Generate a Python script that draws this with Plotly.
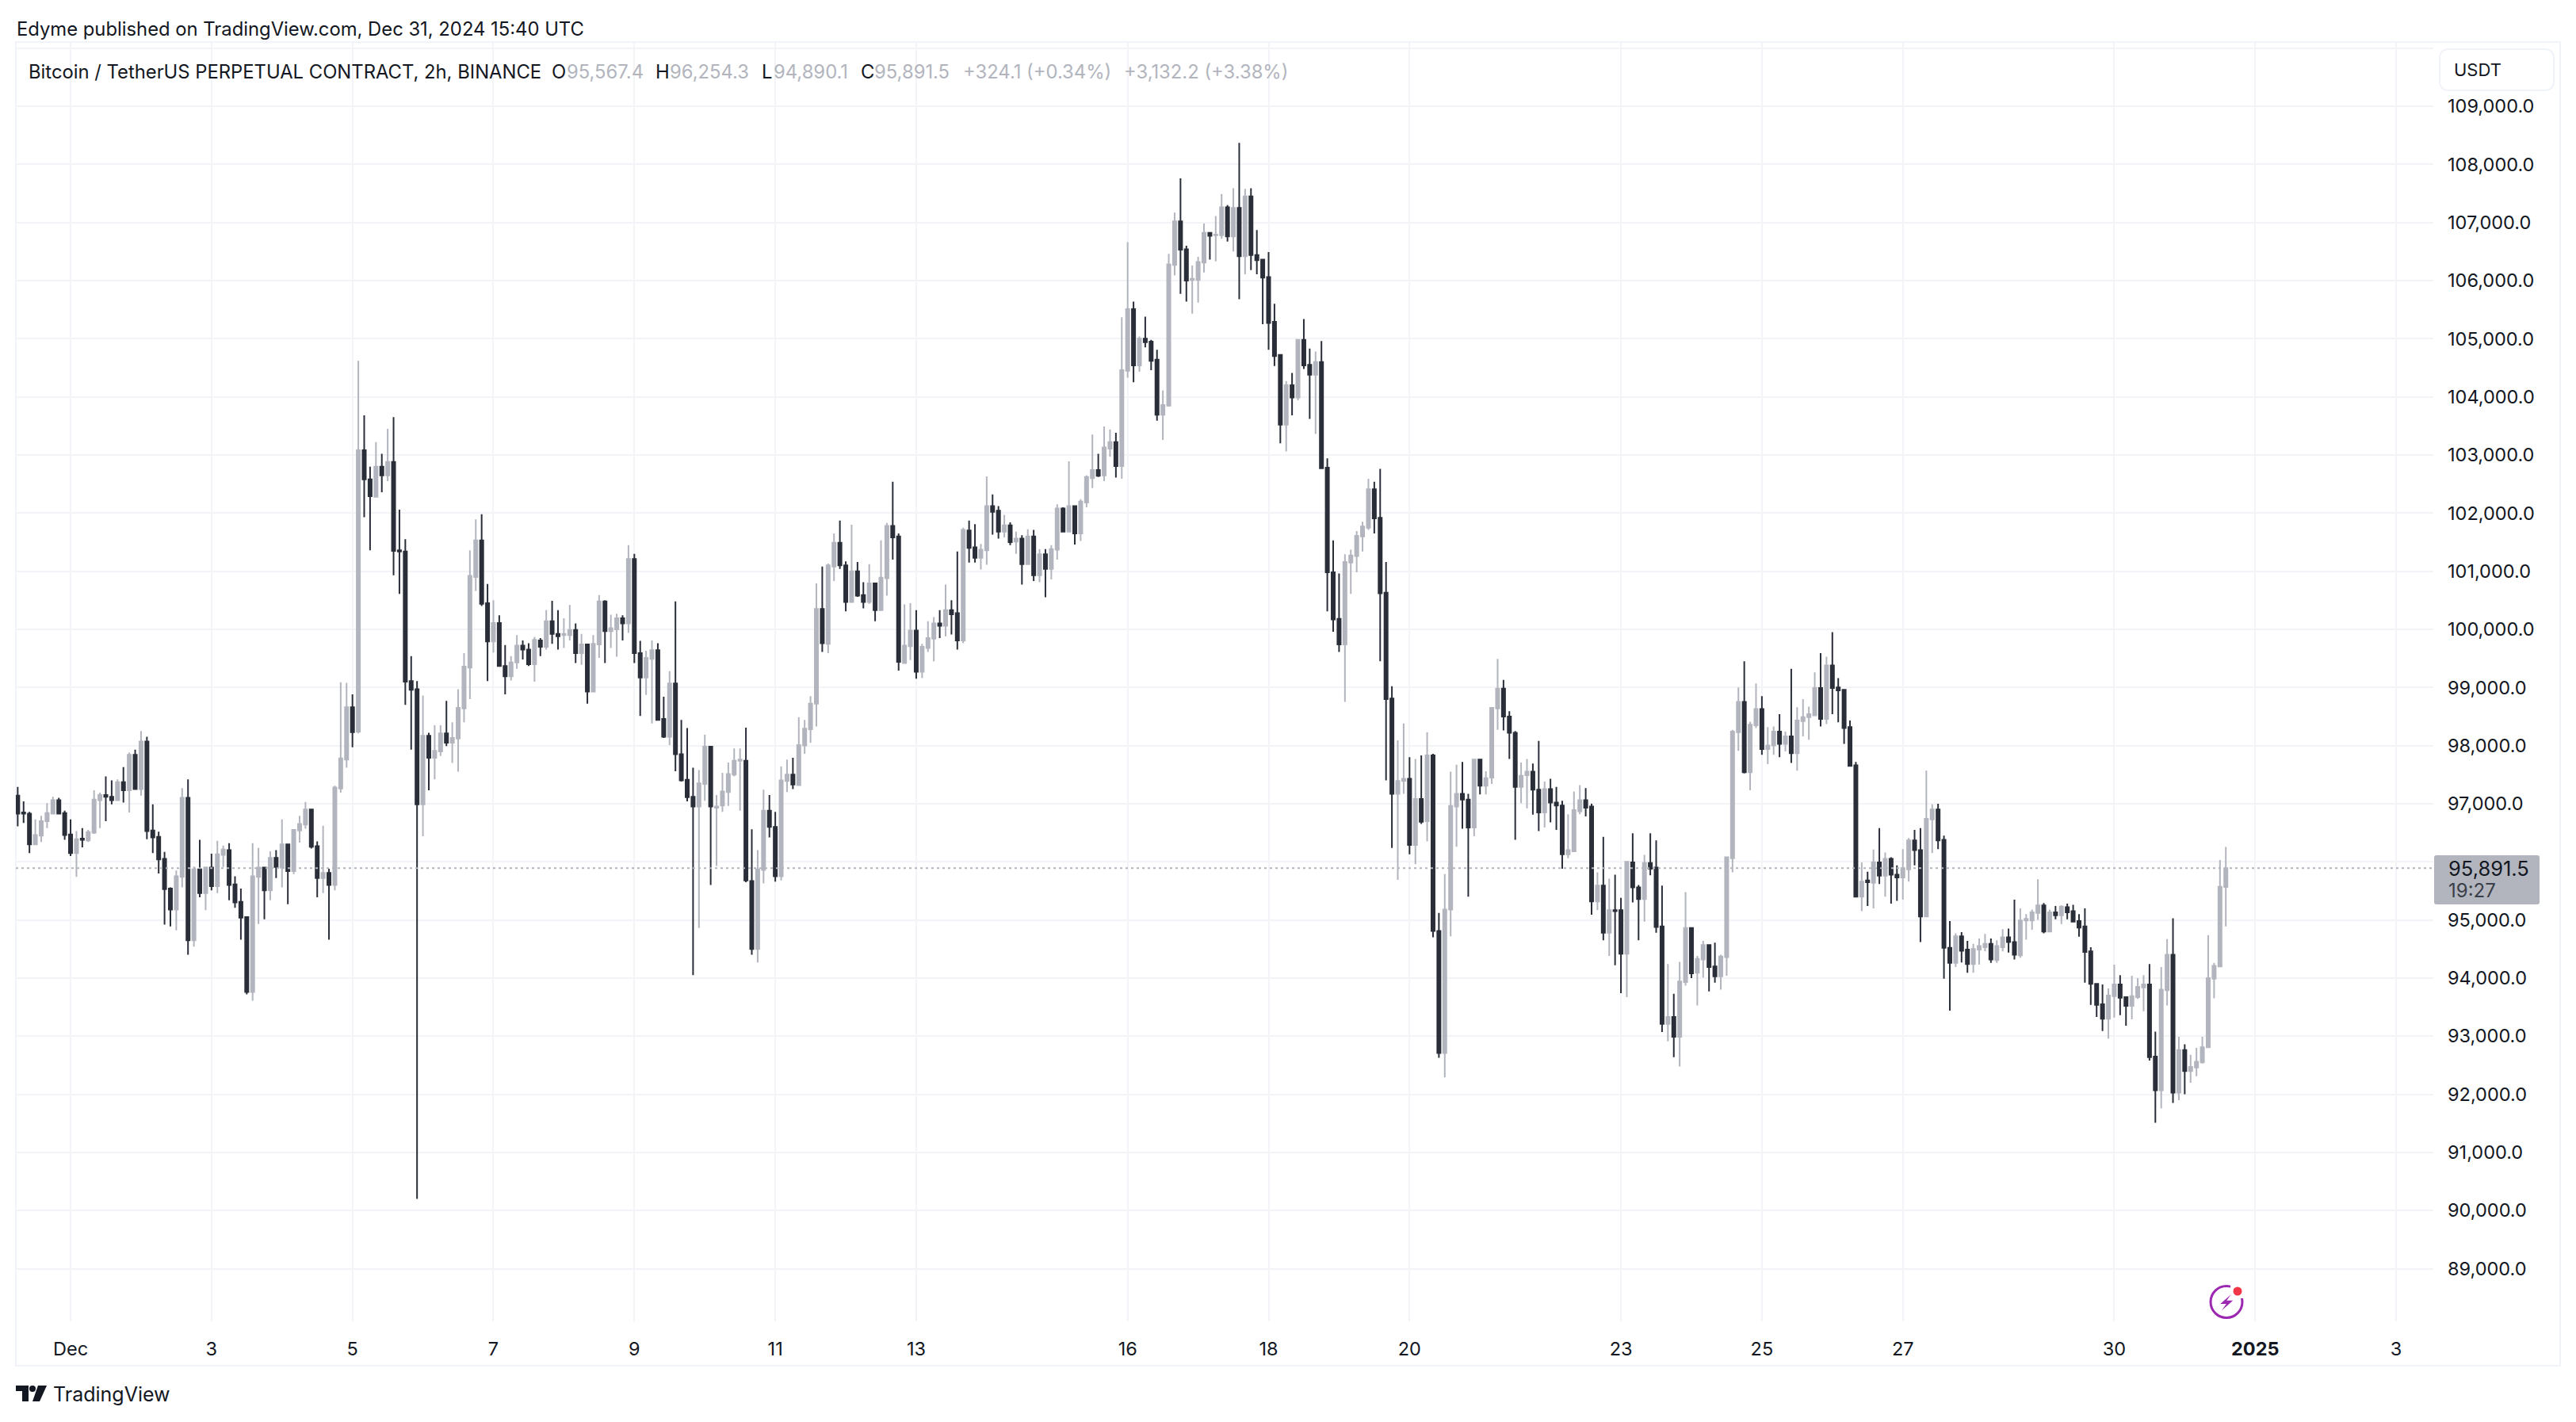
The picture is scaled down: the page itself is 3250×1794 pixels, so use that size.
import pandas as pd
import plotly.graph_objects as go

# 2h candles, first one is Nov 30 06:00
bar_times = pd.date_range("2024-11-30 06:00", periods=377, freq="2h")

opens = [
    97140,96850,96830,96300,96450,96700,96830,97060,96840,96470,
    96150,96400,96370,96500,97060,97150,97120,97060,97370,97230,
    97840,97250,98070,96540,96430,96050,95540,95180,95740,97100,
    94650,95870,95460,95900,95580,96120,96200,95610,95310,95050,
    93760,95740,95900,95510,96070,95900,96300,95840,96540,96640,
    96900,96270,95720,95810,95600,97260,97760,98660,98240,103080,
    102580,102280,102800,102650,102880,101360,101340,99110,98970,96990,
    98170,97790,97900,98210,98050,98120,98640,99340,100900,101530,
    100450,99790,100110,99370,99190,99430,99720,99650,99400,99810,
    99700,100140,99920,99900,99900,99990,99590,99740,98930,99740,
    100480,99970,100000,100190,100100,101210,99590,99170,99490,99640,
    98460,98150,99070,97850,97410,97120,96950,97340,97980,96930,
    96970,97200,97500,97740,97740,95670,94500,95860,96880,96600,
    95750,97390,97500,97320,98000,98280,98720,100350,99750,101080,
    101490,101100,100470,101000,100590,100470,100790,100330,100880,101780,
    101600,99420,99710,99980,99270,99680,99840,100100,100060,100330,
    100280,99810,101700,101410,101230,101360,102120,102040,101680,101790,
    101510,101560,101120,101600,100930,101290,101040,101370,102080,101680,
    102120,101650,102180,102600,102740,102650,103110,103220,102810,104450,
    105510,104540,105000,104950,104640,103690,103850,106270,107020,106540,
    106010,106010,106310,106820,106780,106780,107260,106760,107250,106420,
    107450,106440,106360,106060,105290,104720,103520,104200,103990,104980,
    104550,104380,104600,102780,100980,100180,99740,101150,101260,101600,
    101750,102410,101920,100630,98810,97170,97390,97430,96290,97080,
    96700,97830,94810,92710,95180,96950,97170,97070,96590,97760,
    97310,97450,98640,98980,98500,98220,97290,97490,97550,97240,
    96850,97250,97020,96970,96130,96180,96870,97060,96950,95320,
    95590,94780,95170,95170,94420,95990,95560,95360,95980,95900,
    94890,93210,93330,92990,93930,94860,94090,94320,94570,94200,
    94030,94360,96060,98230,98750,97540,98350,98630,97940,98000,
    98240,98030,98160,97870,98420,98490,98520,98990,98460,99380,
    99000,98960,98320,97660,95400,95680,95640,95990,95760,96050,
    95780,95730,95870,96370,96200,95060,96730,96900,96380,94520,
    94260,94720,94490,94240,94490,94530,94590,94310,94530,94700,
    94620,94390,94990,94990,95120,95250,94800,95130,95080,95220,
    95150,94980,94890,94460,93900,93550,93300,93690,93890,93670,
    93520,93670,93840,93890,92650,92070,93790,94400,92030,92760,
    92400,92460,92550,92810,93990,94200,95567.4,
]
highs = [
    97290,97040,96860,96730,96790,97010,97120,97100,96880,96730,
    96530,96580,96550,97230,97190,97470,97400,97420,97630,97880,
    97930,98250,98150,96990,96520,96170,95560,95850,97270,97420,
    95920,96380,95920,96140,96360,96280,96320,95750,95540,95050,
    96320,96240,95910,96180,96200,96730,96300,96550,96790,97030,
    96900,96350,96620,95880,97310,99090,99080,98880,104620,103680,
    102800,103220,103020,103450,103650,102060,101550,99540,99110,98860,
    98220,98350,98350,98770,98400,98970,99590,101360,101890,101980,
    100780,100500,100240,99730,99540,99900,99810,99760,99870,99850,
    100330,100490,100330,100190,100420,100100,99920,99750,99900,100590,
    100500,100250,100270,100240,101450,101300,99800,99630,99810,99760,
    98840,99280,100480,98440,98300,97620,97580,98190,97980,97150,
    97530,97710,97950,97950,98310,96560,96200,97240,97150,96860,
    97640,97760,97790,98490,98440,98850,100790,101080,101130,101650,
    101870,101170,101800,101160,100810,101120,100790,101530,101830,102540,
    101650,100430,100450,100330,99750,100140,100210,100330,100770,100500,
    101340,101750,101870,101810,101470,102630,102320,102120,101970,101840,
    101680,101620,101720,101710,101380,101380,101450,102150,102100,102890,
    102130,102240,102650,103350,103020,103490,103440,103380,105370,106660,
    105640,105040,105380,104980,104810,104110,106460,107170,107760,106600,
    106260,106410,106980,106820,107110,107490,107300,107590,108370,107580,
    107590,106870,106370,106490,105600,104720,104270,104410,104990,105340,
    104830,104780,104960,102940,101530,100960,101290,101370,101690,101850,
    102590,102540,102760,101160,99020,98090,98380,97800,97770,97830,
    98230,97860,95120,95790,97550,97670,97720,97170,97760,97770,
    97560,98650,99490,99130,98590,98250,97710,97770,97690,98080,
    97380,97430,97290,97050,96820,97210,97320,97270,97000,95820,
    96430,95710,95780,95380,96010,96490,95600,96120,96490,96370,
    95590,94240,93730,94280,95480,94860,94380,94640,94570,94610,
    94400,96080,98270,99000,99450,98410,99070,98850,98320,98330,
    98540,98240,99320,98660,98800,98670,99260,99590,99530,99950,
    99160,98960,98430,97720,95990,95830,96210,96580,96160,96080,
    95940,96220,96410,96550,96580,97570,96990,97000,96450,94980,
    94770,94790,94640,94590,94680,94760,94680,94650,94840,94850,
    95350,95200,95100,95180,95700,95290,95180,95240,95250,95280,
    95260,95100,95200,94530,93900,93890,93820,94230,94050,93680,
    94040,94000,94050,94240,93080,94190,94670,95030,92990,92860,
    92680,92800,92990,94740,94260,96030,96254.3,
]
lows = [
    96610,96670,96150,96300,96340,96580,96830,96830,96380,96100,
    95740,96250,96340,96480,96580,96700,96990,97050,97020,96850,
    97240,97140,96390,96150,95800,94920,94890,94820,95560,94400,
    94540,95390,95170,95510,95460,95910,95340,95210,94660,93720,
    93610,94930,95010,95340,95720,95560,95270,95790,96330,96570,
    96230,95390,95460,94660,95510,97190,97620,97970,98210,101930,
    101360,102280,102360,102550,100930,100610,98700,97930,90200,96440,
    97230,97420,97820,97990,97700,97550,98400,98800,100660,100400,
    99110,99600,99360,98880,99120,99320,99480,99370,99100,99540,
    99650,99750,99650,99680,99810,99420,99390,98720,98930,99510,
    99420,99680,99530,99810,99940,99420,98510,98870,98380,98440,
    98130,98010,97560,97380,97040,94050,94860,97050,95600,95930,
    96860,96960,97470,96880,95650,94400,94270,95630,96420,95660,
    95680,97200,97250,97320,97860,98050,98330,99610,99590,100830,
    101040,100310,100470,100560,100360,100440,100140,100330,100580,101200,
    99290,99410,99470,99150,99160,99610,99450,99850,99880,99910,
    99650,99760,101150,101150,101030,101110,101630,101560,101580,101450,
    101300,100770,101120,100830,100810,100550,100860,101200,101680,101680,
    101460,101520,102100,102430,102620,102550,102970,102610,102590,104330,
    104250,104430,104850,104460,103590,103260,103830,106090,105770,105640,
    105430,105620,106140,106360,106330,106720,106670,106500,105680,106110,
    106180,106110,105250,104810,104530,103200,103060,103680,103940,104480,
    103620,103360,102770,100310,99960,99610,98750,100610,100980,101340,
    101710,101650,99450,97400,96240,95690,97170,96130,95960,96650,
    96350,94700,92630,92290,94720,96260,96570,95400,96440,97160,
    97160,97340,98270,98260,97770,96380,97010,96920,96810,96530,
    96590,96680,96550,95880,96060,96180,96820,96780,95090,95170,
    94650,94380,94220,93740,93670,95300,94650,94970,95770,94780,
    93070,92910,92640,92480,93870,94000,93530,94010,93770,93920,
    93800,94040,95820,97910,97520,97230,98300,97840,97680,97840,
    97800,97900,97700,97570,98160,98100,98510,98330,98370,98540,
    98400,98030,97650,95390,95150,95240,95200,95620,95400,95280,
    95330,95350,95660,95940,94620,95060,96150,96220,93990,93440,
    94190,94270,94090,94090,94230,94460,94260,94260,94460,94440,
    94320,94350,94660,94830,95000,94770,94800,95010,94930,95010,
    94970,94710,93920,93540,93330,93090,92960,93320,93360,93180,
    93290,93640,93430,92580,91510,91760,93530,91850,91900,92000,
    92200,92310,92530,92810,93650,94200,94890.1,
]
closes = [
    96830,96830,96300,96460,96700,96840,97060,96830,96460,96150,
    96390,96380,96510,97070,97150,97120,97060,97370,97230,97840,
    97250,98070,96530,96420,96040,95530,95180,95750,97100,94650,
    95870,95460,95900,95580,96130,96210,95600,95300,95040,93760,
    95750,95900,95510,96070,95910,96300,95840,96550,96650,96900,
    96260,95720,95810,95600,97280,97780,98660,98230,103080,102580,
    102290,102800,102650,102880,101350,101340,99100,98960,96990,98170,
    97790,97910,98210,98050,98130,98650,99360,100920,101530,100440,
    99790,100110,99370,99190,99430,99720,99650,99400,99820,99700,
    100140,99920,99880,99920,99990,99590,99740,98930,99750,100480,
    99970,100020,100190,100100,101210,99590,99170,99510,99640,98440,
    98150,99070,97850,97400,97110,96950,97350,97980,96950,96950,
    97210,97510,97740,97760,95680,94500,95870,96880,96600,95750,
    97400,97500,97330,98010,98290,98720,100350,99760,101100,101490,
    101100,100470,101000,100580,100470,100790,100330,100890,101780,101580,
    99440,99720,99980,99270,99700,99850,100100,100060,100330,100260,
    99810,101710,101400,101230,101370,102120,102020,101680,101790,101500,
    101560,101120,101600,100930,101290,101040,101380,102080,101680,102120,
    101650,102200,102620,102740,102640,103130,103220,102810,104460,105510,
    104540,105000,104940,104620,103690,103860,106280,107020,106530,106000,
    106030,106320,106820,106770,106790,107260,106760,107250,106420,107450,
    106440,106350,106050,105270,104700,103520,104200,103990,104980,104540,
    104380,104600,102770,100980,100170,99740,101160,101270,101610,101770,
    102410,101910,100620,98800,97170,97390,97430,96290,97080,96690,
    97830,94810,92710,95180,96960,97170,97070,96590,97760,97310,
    97440,98650,98980,98500,98220,97290,97480,97550,97240,96850,
    97250,97020,96970,96130,96200,96890,97060,96930,95320,95590,
    94780,95170,95150,94420,96000,95560,95360,95980,95880,94880,
    93210,93330,92990,93940,94860,94080,94330,94570,94190,94030,
    94370,96080,98240,98750,97540,98360,98630,97940,98000,98240,
    98030,98160,97870,98430,98490,98540,98990,98460,99380,98990,
    98950,98300,97650,95400,95660,95650,95990,95760,96050,95780,
    95730,95890,96370,96200,95060,96740,96900,96370,94520,94260,
    94720,94470,94240,94500,94550,94590,94320,94550,94700,94620,
    94400,94990,95020,95130,95250,94800,95130,95080,95230,95130,
    94970,94870,94450,93900,93540,93300,93700,93890,93660,93520,
    93690,93850,93890,92640,92070,93800,94400,92030,92760,92400,
    92470,92560,92810,94000,94210,95570,95891.5,
]

# axis ticks
price_ticks = list(range(89000, 111000, 1000))
price_labels = [f"{v:,.1f}" for v in price_ticks[:-1]] + [""]
date_ticks = ["2024-12-01", "2024-12-03", "2024-12-05", "2024-12-07", "2024-12-09", "2024-12-11",
              "2024-12-13", "2024-12-16", "2024-12-18", "2024-12-20", "2024-12-23", "2024-12-25",
              "2024-12-27", "2024-12-30", "2025-01-01", "2025-01-03"]
date_labels = ["Dec", "3", "5", "7", "9", "11", "13", "16", "18", "20", "23", "25", "27", "30",
               "<b>2025</b>", "3"]
last_price = 95891.5

# page layout in pixels
W, H = 3250, 1794
PANE_L, PANE_R, PANE_T, PANE_B = 20, 3070, 54, 1667
FRAME_R, FRAME_B = 3230, 1723

DARK = "#2A2E39"
GRAY = "#B2B5BE"
TEXT = "#131722"
GRID = "#F3F4F7"
FRAME = "#F0F3FA"
FONT = "Inter"


def px(x):
    return (x - PANE_L) / (PANE_R - PANE_L)


def py(y):
    return (PANE_B - y) / (PANE_B - PANE_T)


def path(points):
    return "M " + " L ".join(f"{px(x)},{py(y)}" for x, y in points) + " Z"


def round_rect(x0, y0, x1, y1, r):
    # rounded box made of short corner cuts and quadratic corners
    return (f"M {px(x0 + r)},{py(y0)} L {px(x1 - r)},{py(y0)} Q {px(x1)},{py(y0)} {px(x1)},{py(y0 + r)} "
            f"L {px(x1)},{py(y1 - r)} Q {px(x1)},{py(y1)} {px(x1 - r)},{py(y1)} "
            f"L {px(x0 + r)},{py(y1)} Q {px(x0)},{py(y1)} {px(x0)},{py(y1 - r)} "
            f"L {px(x0)},{py(y0 + r)} Q {px(x0)},{py(y0)} {px(x0 + r)},{py(y0)} Z")


def box(x0, y0, x1, y1, **kw):
    return dict(type="rect", xref="paper", yref="paper", x0=px(x0), x1=px(x1), y0=py(y0), y1=py(y1), **kw)


def label(x, y, text, color=TEXT, size=23.8, anchor="left"):
    return dict(x=px(x), y=py(y), xref="paper", yref="paper", text=text, showarrow=False, xanchor=anchor,
                yanchor="middle", borderpad=0, font=dict(family=FONT, size=size, color=color))


fig = go.Figure(go.Candlestick(
    x=bar_times, open=opens, high=highs, low=lows, close=closes,
    increasing=dict(line=dict(color=GRAY, width=2), fillcolor=GRAY),
    decreasing=dict(line=dict(color=DARK, width=2), fillcolor=DARK),
    whiskerwidth=0, hoverinfo="skip",
))

shapes = [
    # frame around the chart
    dict(type="rect", xref="paper", yref="paper", x0=px(PANE_L), x1=px(FRAME_R), y0=py(FRAME_B), y1=py(53),
         line=dict(color=FRAME, width=2), layer="below"),
    # last price line
    dict(type="line", xref="paper", yref="y", x0=0, x1=1, y0=last_price, y1=last_price,
         line=dict(color=GRAY, width=2, dash="3px,4px")),
    # last price tag
    dict(type="path", xref="paper", yref="paper", path=round_rect(3071, 1079, 3204, 1141, 3),
         fillcolor=GRAY, line=dict(width=0)),
    # currency button
    dict(type="path", xref="paper", yref="paper", path=round_rect(3078, 62, 3222, 114, 12),
         fillcolor="white", line=dict(color=FRAME, width=2)),
    # streak icon
    dict(type="circle", xref="paper", yref="paper", x0=px(2789), x1=px(2829), y0=py(1622.5), y1=py(1662.5),
         line=dict(color="#9C27B0", width=3)),
    dict(type="path", xref="paper", yref="paper", line=dict(width=0), fillcolor="#9C27B0",
         path=path([(2814.6, 1633.3), (2801.2, 1645), (2808.8, 1645), (2803, 1653.3), (2817.2, 1640.7), (2809.2, 1640.7)])),
    box(2814, 1620, 2832, 1638, fillcolor="white", line=dict(width=0)),
    dict(type="circle", xref="paper", yref="paper", x0=px(2817.5), x1=px(2828.5), y0=py(1623.5), y1=py(1634.5),
         fillcolor="#F23645", line=dict(width=0)),
    # TradingView logo
    dict(type="path", xref="paper", yref="paper", line=dict(width=0), fillcolor=TEXT,
         path=path([(20, 1748), (36, 1748), (36, 1768), (28, 1768), (28, 1755), (20, 1755)])),
    dict(type="circle", xref="paper", yref="paper", x0=px(37), x1=px(45), y0=py(1748), y1=py(1756),
         fillcolor=TEXT, line=dict(width=0)),
    dict(type="path", xref="paper", yref="paper", line=dict(width=0), fillcolor=TEXT,
         path=path([(48, 1748), (59, 1748), (50, 1768), (41, 1768)])),
]

annotations = [
    label(20, 36, "Edyme published on TradingView.com, Dec 31, 2024 15:40 UTC"),
    label(35, 90, "Bitcoin / TetherUS PERPETUAL CONTRACT, 2h, BINANCE"),
    label(695, 90, "O"), label(714, 90, "95,567.4", GRAY),
    label(826, 90, "H"), label(844, 90, "96,254.3", GRAY),
    label(960, 90, "L"), label(975, 90, "94,890.1", GRAY),
    label(1085, 90, "C"), label(1102, 90, "95,891.5", GRAY),
    label(1214, 90, "+324.1 (+0.34%)", GRAY),
    label(1417, 90, "+3,132.2 (+3.38%)", GRAY),
    label(3095, 88, "USDT", size=22),
    label(3088, 1095, "95,891.5", size=25.5),
    label(3088, 1123, "19:27", color="#3A3E49", size=24),
    label(66, 1759, "TradingView", size=25),
]

fig.update_layout(
    width=W, height=H, margin=dict(l=PANE_L, r=W - PANE_R, t=PANE_T, b=H - PANE_B),
    paper_bgcolor="white", plot_bgcolor="white", showlegend=False,
    boxgap=0.23, shapes=shapes, annotations=annotations,
    font=dict(family=FONT, size=23.5, color=TEXT),
)
fig.update_xaxes(
    type="date", range=["2024-11-30 05:22", "2025-01-03 12:40"], rangeslider_visible=False,
    tickvals=date_ticks, ticktext=date_labels, showgrid=True, gridcolor=GRID, gridwidth=2,
    showline=False, zeroline=False, ticks="", ticklabelstandoff=18, tickangle=0,
)
fig.update_yaxes(
    side="right", range=[88094, 110091], tickvals=price_ticks, ticktext=price_labels,
    showgrid=True, gridcolor=GRID, gridwidth=2, showline=False, zeroline=False, ticks="",
    ticklabelstandoff=17,
)

fig.write_html("out.html", config=dict(displayModeBar=False),
               post_script="document.body.style.margin='0';")
